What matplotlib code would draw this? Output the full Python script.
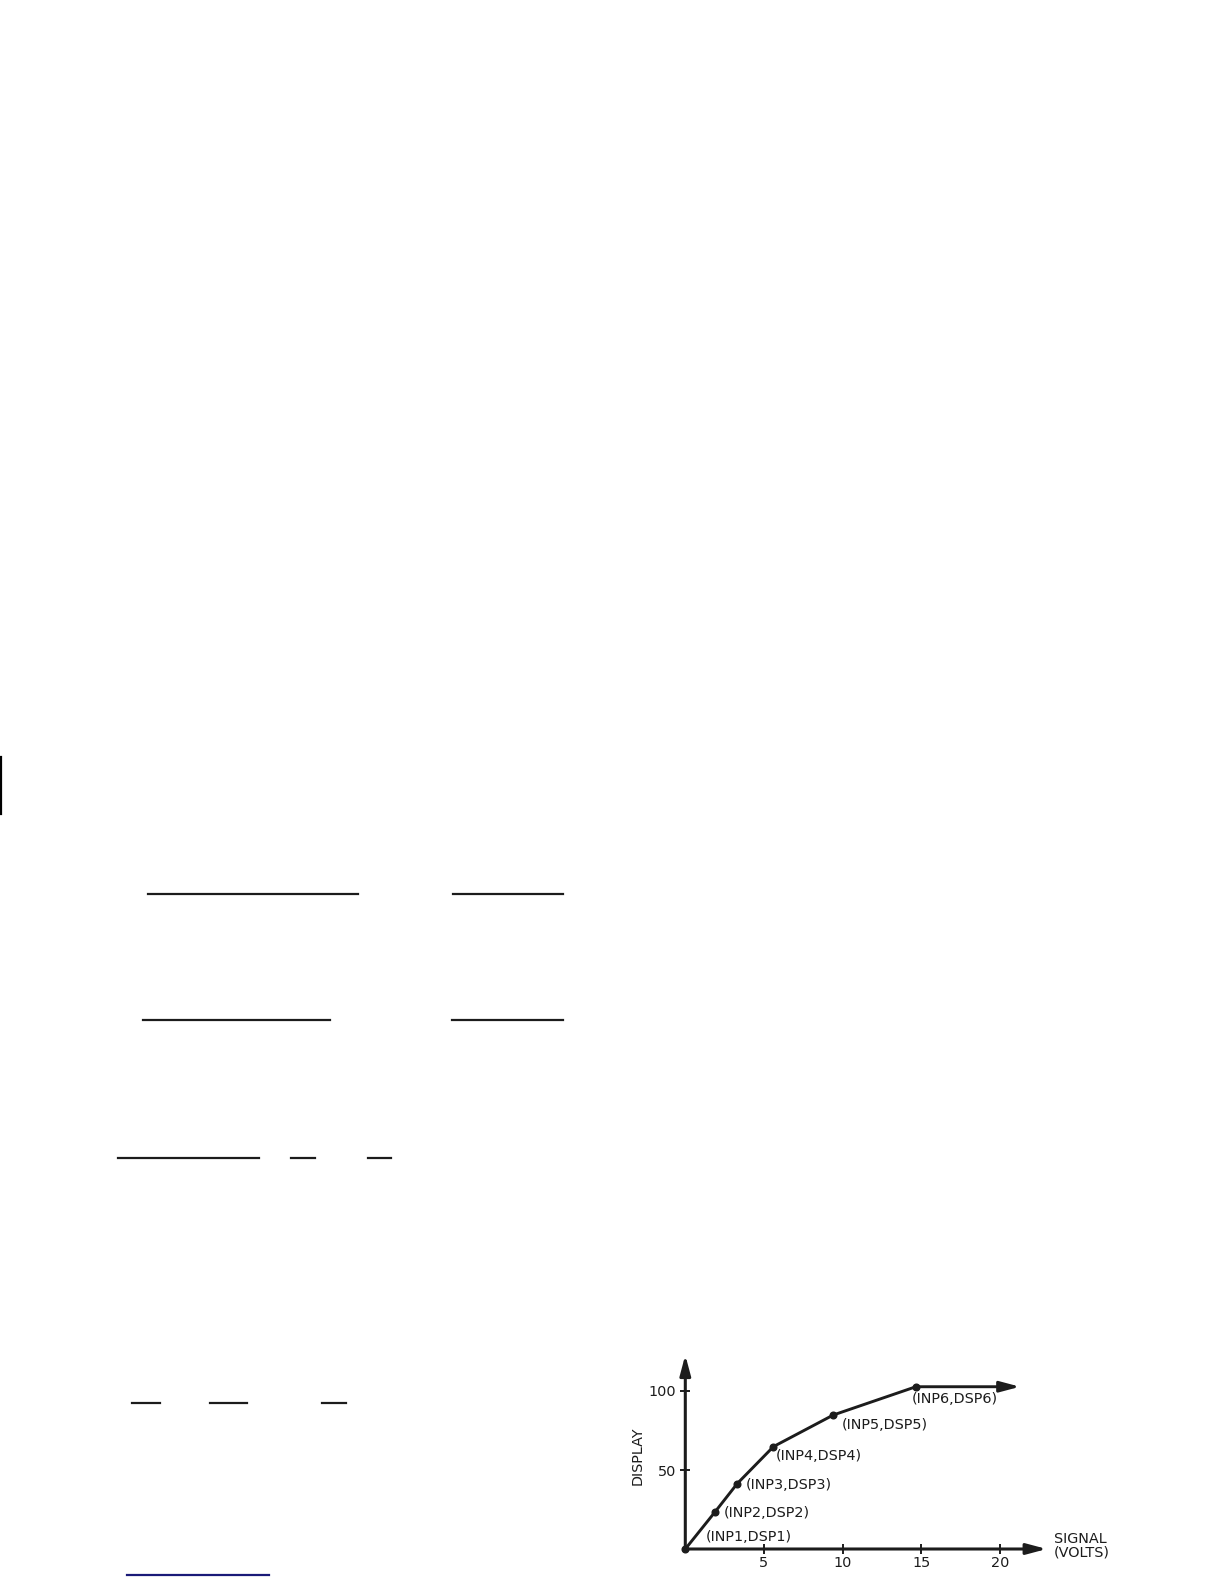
import matplotlib
matplotlib.use("Agg")
import matplotlib.pyplot as plt
from matplotlib.lines import Line2D

# ---- data ----
inp = [0.0, 1.9, 3.3, 5.6, 9.4, 14.65]
dsp = [0.0, 23.6, 41.4, 64.8, 84.8, 102.7]
point_labels = ["(INP1,DSP1)", "(INP2,DSP2)", "(INP3,DSP3)",
                "(INP4,DSP4)", "(INP5,DSP5)", "(INP6,DSP6)"]
xticks = [5, 10, 15, 20]
yticks = [50, 100]
x_axis_label = "SIGNAL\n(VOLTS)"
y_axis_label = "DISPLAY"

# ---- style / layout ----
W, H = 1224, 1584
INK = "#1c1c1c"
FS = 10.4
label_offsets = [(20, 12), (9, -1), (9, -1), (2, -9), (8, -10), (-4, -12)]
plt.rcParams['font.family'] = ['DejaVu Sans']

fig = plt.figure(figsize=(W / 100, H / 100), dpi=100)
fig.patch.set_facecolor("white")

# decorative document rules (page furniture)
def hline(x0, x1, y, color=INK, lw=1.6):
    fig.add_artist(Line2D([x0 / W, x1 / W], [1 - y / H, 1 - y / H],
                          color=color, lw=lw, transform=fig.transFigure))

for (x0, x1, y) in [(148, 358, 894), (453, 563, 894),
                    (143, 330, 1020), (452, 563, 1020),
                    (118, 259, 1158), (291, 315, 1158), (368, 391, 1158),
                    (132, 160, 1403), (210, 247, 1403), (322, 346, 1403)]:
    hline(x0, x1, y)
hline(127, 269, 1575, color="#1a1a78", lw=1.6)
fig.add_artist(Line2D([1 / W, 1 / W], [1 - 757 / H, 1 - 814 / H],
                      color="black", lw=1.6, transform=fig.transFigure))

# ---- chart axes ----
px_x = 15.74   # pixels per volt
px_y = 1.58    # pixels per display unit
x0_px, y0_px = 685.3, 1549.0
xmax, ymax = 25, 125
ax = fig.add_axes([x0_px / W, (H - y0_px) / H, xmax * px_x / W, ymax * px_y / H])
ax.set_xlim(0, xmax)
ax.set_ylim(0, ymax)
ax.patch.set_alpha(0)
for s in ax.spines.values():
    s.set_visible(False)

arrow_kw = dict(arrowstyle="-|>,head_length=0.75,head_width=0.2",
                color=INK, lw=2.2, mutation_scale=16, shrinkA=0, shrinkB=0)
ax.annotate("", xy=(22.96, 0), xytext=(0, 0), arrowprops=arrow_kw,
            annotation_clip=False)
ax.annotate("", xy=(0, 122.8), xytext=(0, 0), arrowprops=arrow_kw,
            annotation_clip=False)

# curve
ax.plot(inp, dsp, color=INK, lw=2.1, marker="o", markersize=4.8,
        solid_joinstyle="round", clip_on=False, zorder=3)
ax.annotate("", xy=(21.26, dsp[-1]), xytext=(inp[-1], dsp[-1]),
            arrowprops=dict(arrow_kw, lw=2.1), annotation_clip=False)

for xi, yi, lab, (dx, dy) in zip(inp, dsp, point_labels, label_offsets):
    ax.annotate(lab, xy=(xi, yi), xytext=(dx, dy), textcoords="offset pixels",
                ha="left", va="center", fontsize=FS, color=INK,
                annotation_clip=False)

ax.set_xticks(xticks)
ax.set_yticks(yticks)
ax.set_xticklabels([str(t) for t in xticks])
ax.set_yticklabels([str(t) for t in yticks])
ax.tick_params(axis="both", direction="inout", length=6.5, width=1.4,
               colors=INK, labelsize=FS)
ax.tick_params(axis="x", pad=2.0)
ax.tick_params(axis="y", pad=3.5)

ax.text(23.42, 1.9, x_axis_label, ha="left", va="center", fontsize=FS,
        color=INK, linespacing=1.0, clip_on=False)
ax.text(-3.0, 59, y_axis_label, ha="center", va="center", rotation=90,
        fontsize=FS, color=INK, clip_on=False)

fig.savefig("out.png", dpi=100, facecolor="white")
